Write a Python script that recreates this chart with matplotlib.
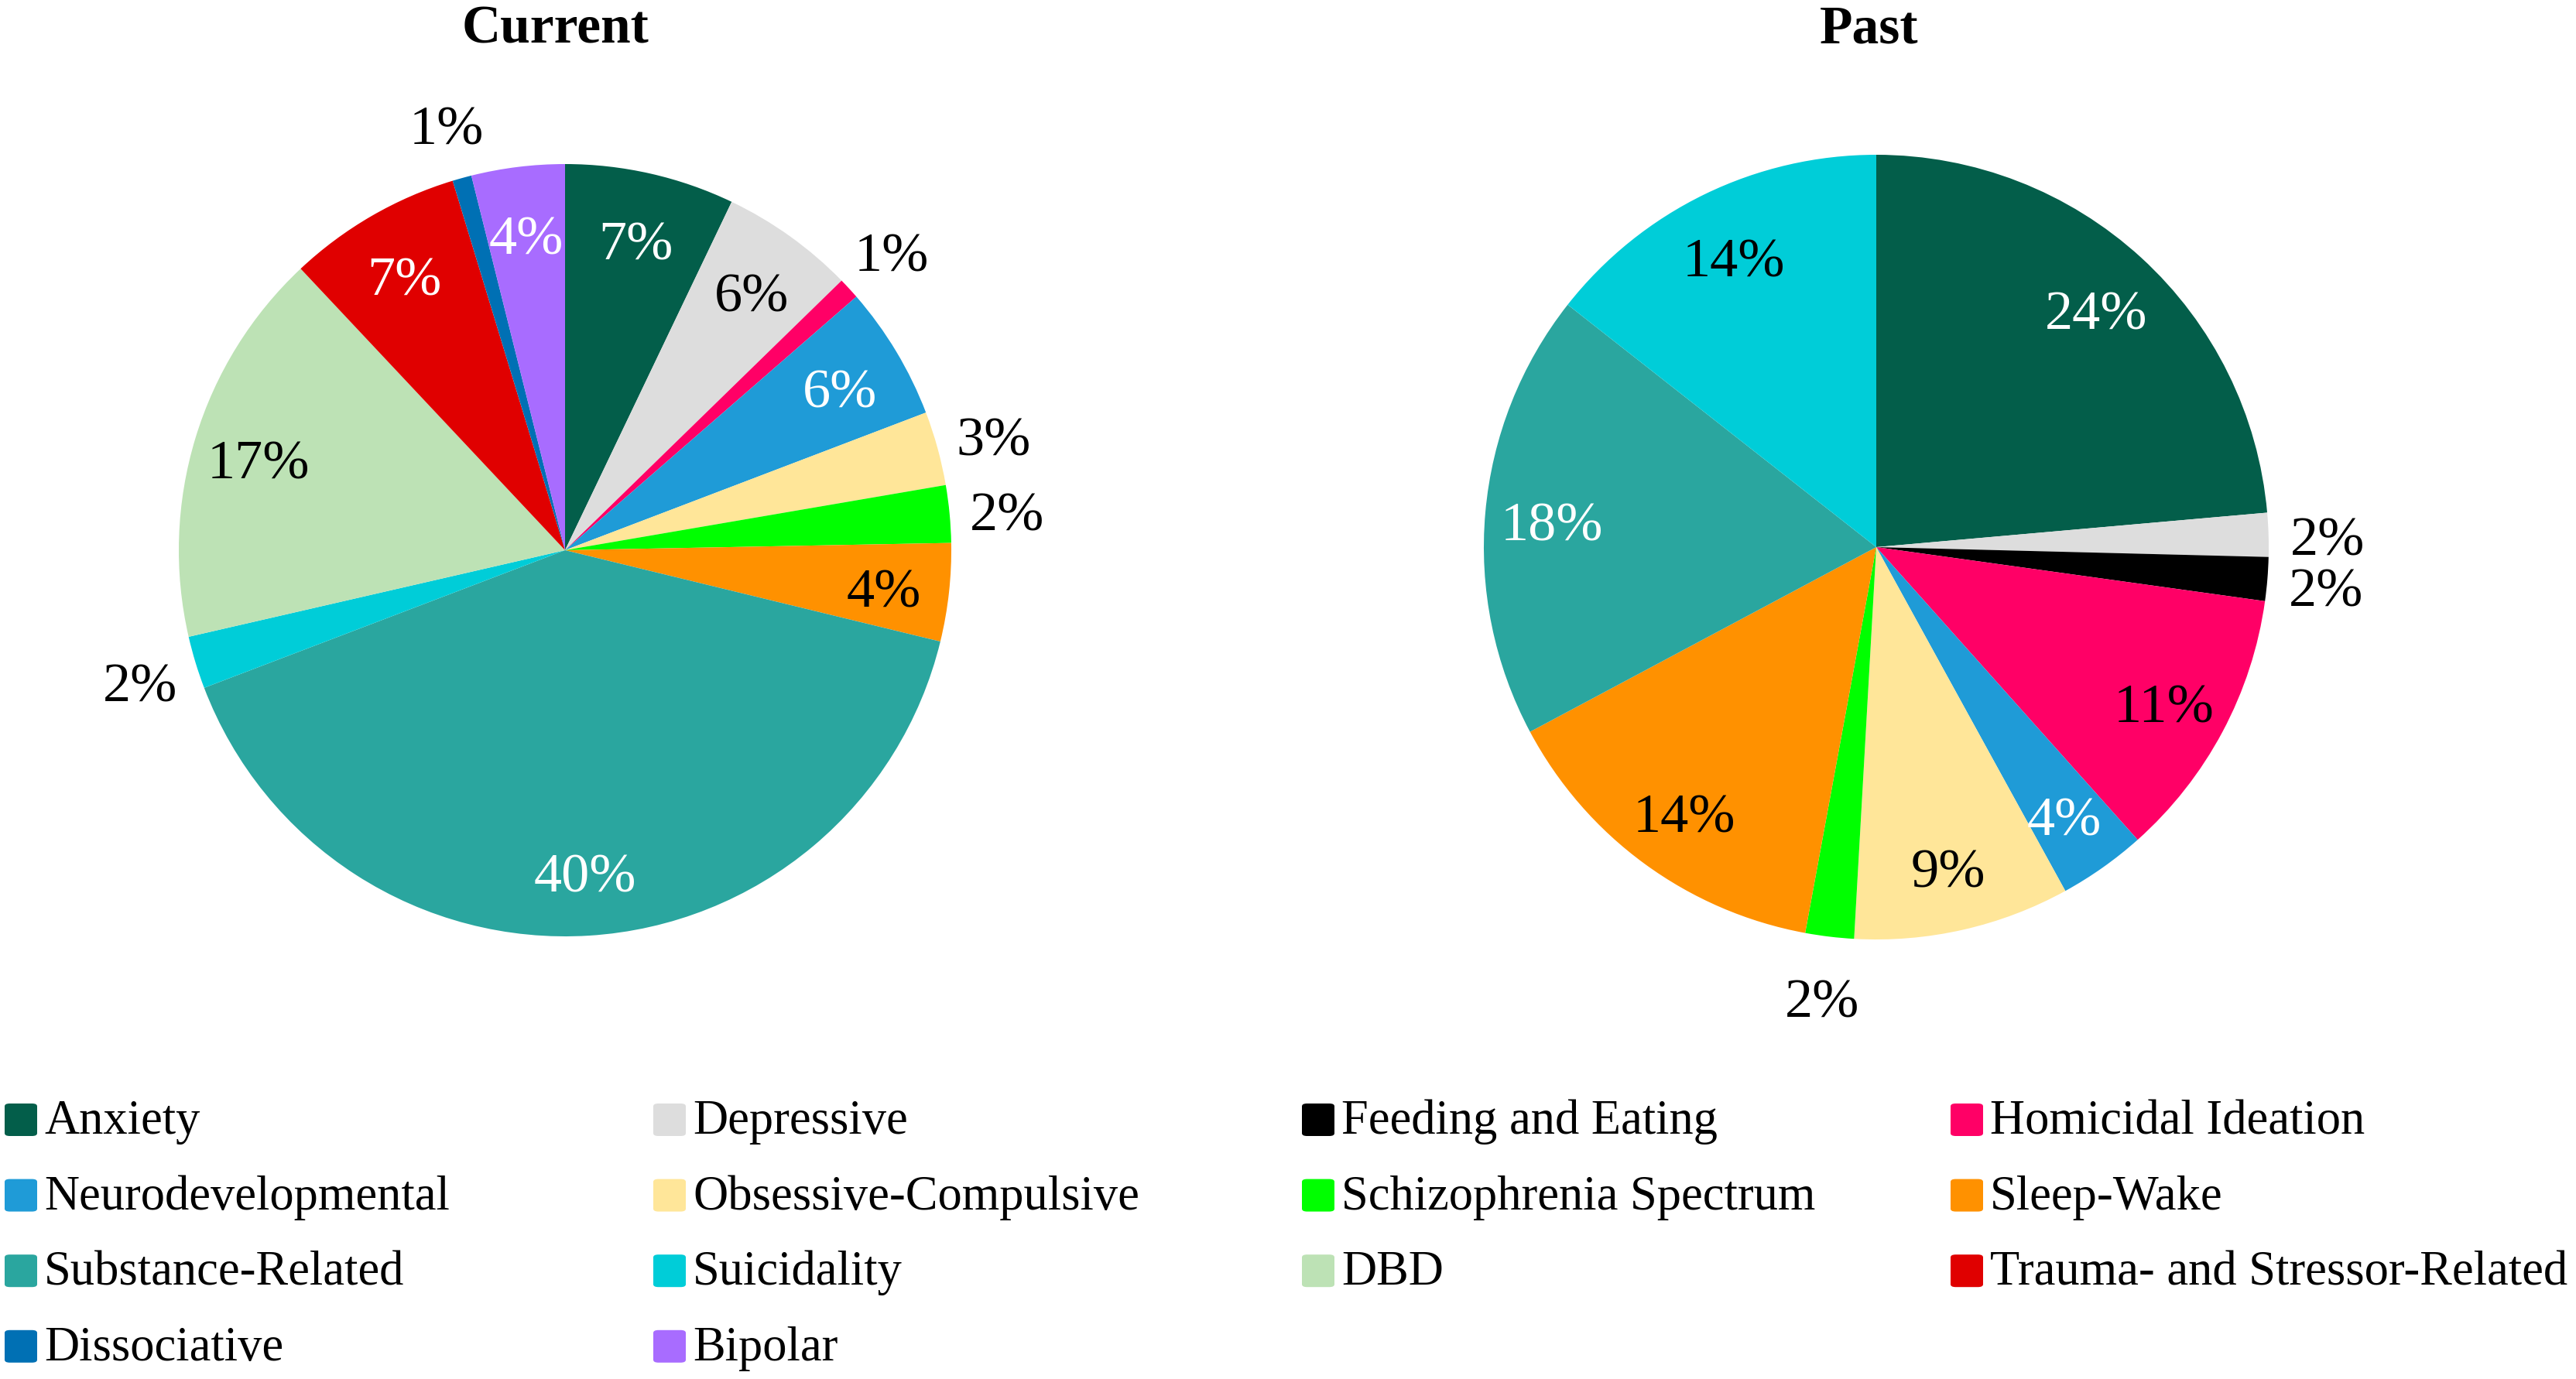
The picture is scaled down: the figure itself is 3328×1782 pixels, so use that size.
import math
import matplotlib
matplotlib.use('Agg')
import matplotlib.pyplot as plt
from matplotlib.patches import FancyBboxPatch
plt.rcParams['font.family'] = ['Liberation Serif', 'DejaVu Serif']

# categories (legend order, row by row)
categories = ['Anxiety', 'Depressive', 'Feeding and Eating', 'Homicidal Ideation',
              'Neurodevelopmental', 'Obsessive-Compulsive', 'Schizophrenia Spectrum', 'Sleep-Wake',
              'Substance-Related', 'Suicidality', 'DBD', 'Trauma- and Stressor-Related',
              'Dissociative', 'Bipolar']

# percent shares (0 = not present)
current = [7.1, 5.6, 0, 0.9, 5.6, 3.1, 2.4, 4.1, 40.4, 2.2, 16.6, 7.3, 0.8, 3.9]
past = [23.6, 1.8, 1.8, 11.2, 3.6, 8.9, 2.0, 14.3, 18.4, 14.4, 0, 0, 0, 0]

colors = ['#035E4A', '#DDDDDD', '#000000', '#FF0066',
          '#1F9BD7', '#FFE699', '#00FF00', '#FF9100',
          '#2AA69F', '#00CDD8', '#BDE2B5', '#E00000',
          '#0070B4', '#A86CFF']
white_text = {'Anxiety', 'Neurodevelopmental', 'Substance-Related',
              'Trauma- and Stressor-Related', 'Bipolar'}

W, H = 3328, 1782
fig = plt.figure(figsize=(W / 200, H / 200), dpi=200)


def draw_pie(cx, cy, r, vals, title, tx):
    ax = fig.add_axes([(cx - r) / W, (H - cy - r) / H, 2 * r / W, 2 * r / H])
    idx = [i for i, v in enumerate(vals) if v > 0]
    v = [vals[i] for i in idx]
    ax.pie(v, colors=[colors[i] for i in idx], startangle=90,
           counterclock=False, radius=1, wedgeprops=dict(linewidth=0))
    tot = sum(v)
    cum = 0
    for k, i in enumerate(idx):
        mid = (cum + v[k] / 2) / tot
        cum += v[k]
        ang = math.radians(90 - 360 * mid)
        inside = v[k] >= 3.5
        d = 0.83 if inside else 1.15
        col = 'white' if (inside and categories[i] in white_text) else 'black'
        ax.text(d * math.cos(ang), d * math.sin(ang) - 0.022, '%.0f%%' % v[k],
                ha='center', va='center', fontsize=26, color=col)
    ax.set_xlim(-1, 1)
    ax.set_ylim(-1, 1)
    ax.axis('off')
    fig.text(tx / W, 1 - 38 / H, title, ha='center', va='center',
             fontsize=25, fontweight='bold')


draw_pie(730, 711, 499, current, 'Current', 717)
draw_pie(2424, 707, 507, past, 'Past', 2415)

# legend, 4 columns
for i, name in enumerate(categories):
    row, col = divmod(i, 4)
    x = 6 + col * 838
    y = 1447 + row * 97.6
    box = FancyBboxPatch((x / W, (H - y - 21) / H), 42 / W, 42 / H,
                         boxstyle='round,pad=0,rounding_size=0.002',
                         transform=fig.transFigure, facecolor=colors[i],
                         edgecolor='none')
    fig.add_artist(box)
    fig.text((x + 51) / W, (H - y - 3) / H, name, ha='left', va='center',
             fontsize=22.5)

fig.savefig('out.png', dpi=200)
